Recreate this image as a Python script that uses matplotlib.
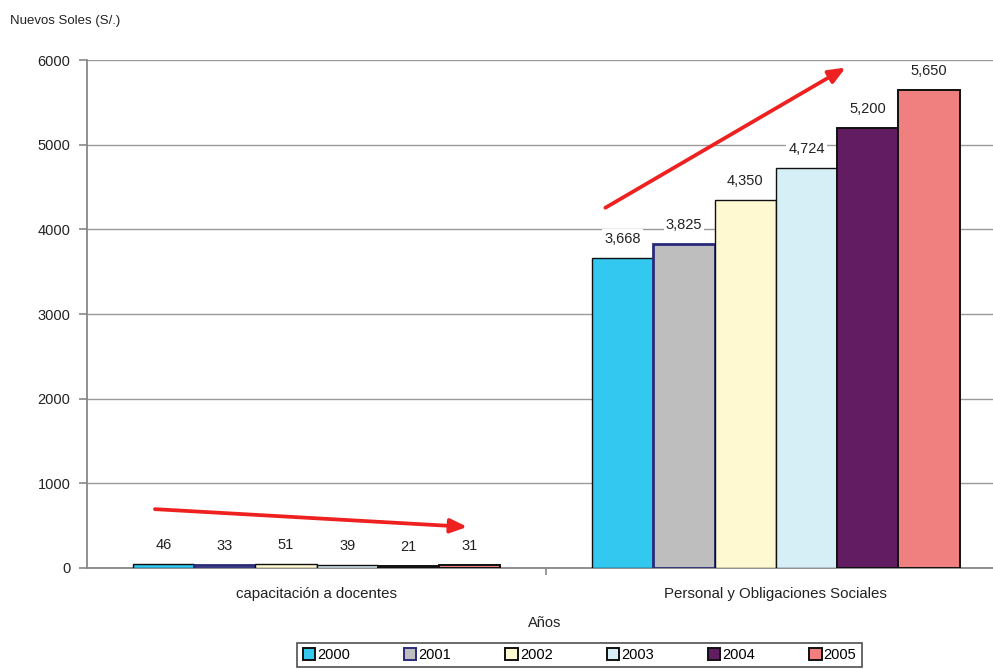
import matplotlib
matplotlib.use("Agg")
import matplotlib.pyplot as plt
import numpy as np

plt.rcParams["font.family"] = ["Liberation Sans", "DejaVu Sans"]

categories = ["capacitación a docentes", "Personal y Obligaciones Sociales"]
years = ["2000", "2001", "2002", "2003", "2004", "2005"]
values = {
    "2000": [46, 3668],
    "2001": [33, 3825],
    "2002": [51, 4350],
    "2003": [39, 4724],
    "2004": [21, 5200],
    "2005": [31, 5650],
}
labels = {
    "2000": ["46", "3,668"],
    "2001": ["33", "3,825"],
    "2002": ["51", "4,350"],
    "2003": ["39", "4,724"],
    "2004": ["21", "5,200"],
    "2005": ["31", "5,650"],
}
y_ticks = [0, 1000, 2000, 3000, 4000, 5000, 6000]

fills = ["#33C8F0", "#BEBEBE", "#FFF9D2", "#D6EEF6", "#621C62", "#F07F80"]
edges = ["#101010", "#2A2A7A", "#101010", "#101010", "#101010", "#101010"]
edge_w = [1.0, 2.0, 1.0, 1.0, 1.4, 1.4]

fig = plt.figure(figsize=(9.93, 6.69), dpi=100)
ax = fig.add_axes([0.0876, 0.151, 0.925, 0.759])

x = np.arange(len(categories))
group_w = 0.8
bw = group_w / len(years)

ax.set_axisbelow(True)
ax.yaxis.grid(True, color="#9A9A9A", linewidth=1.0)

for i, yr in enumerate(years):
    pos = x - group_w / 2 + bw * (i + 0.5)
    bars = ax.bar(pos, values[yr], width=bw, color=fills[i], edgecolor=edges[i],
                  linewidth=edge_w[i], label=yr, zorder=3)
    for b, txt in zip(bars, labels[yr]):
        ax.annotate(txt, (b.get_x() + b.get_width() / 2, b.get_height()),
                    xytext=(0, 19), textcoords="offset pixels",
                    ha="center", va="center", fontsize=10.5, color="#222222",
                    bbox=dict(boxstyle="square,pad=0.15", fc="white", ec="none"),
                    zorder=4)

ax.set_xlim(-0.5, 1.5)
ax.set_ylim(0, 6000)
ax.set_yticks(y_ticks)
ax.set_yticklabels([str(t) for t in y_ticks], fontsize=10.5, color="#222222")
ax.tick_params(axis="y", direction="out", length=6, color="#888888", width=1.2, pad=6)

ax.set_xticks(x)
ax.set_xticklabels(categories, fontsize=10.8, color="#222222")
ax.tick_params(axis="x", length=0, pad=14)
ax.set_xticks([0.5], minor=True)
ax.tick_params(axis="x", which="minor", direction="out", length=5, color="#888888", width=1.2)

for s in ["top", "right"]:
    ax.spines[s].set_visible(False)
ax.spines["left"].set_color("#888888")
ax.spines["left"].set_linewidth(1.3)
ax.spines["bottom"].set_color("#888888")
ax.spines["bottom"].set_linewidth(1.3)

# Trend arrows
arrow_kw = dict(arrowstyle="-|>,head_length=1.0,head_width=0.42", color="#EE2020", lw=2.7)
ax.annotate("", xy=(0.334, 484), xytext=(-0.358, 697), arrowprops=arrow_kw,
            annotation_clip=False, zorder=5)
ax.annotate("", xy=(1.157, 5929), xytext=(0.6235, 4240), arrowprops=arrow_kw,
            annotation_clip=False, zorder=5)

fig.text(0.548, 0.069, "Años", ha="center", va="center", fontsize=10.5, color="#222222")
fig.text(0.01, 0.968, "Nuevos Soles (S/.)", ha="left", va="center", fontsize=9.5, color="#222222")

leg = fig.legend(loc="upper center", bbox_to_anchor=(0.5836, 0.05), ncol=6,
                 fontsize=10.5, frameon=True, fancybox=False, edgecolor="#222222",
                 handlelength=0.85, handleheight=0.85, handletextpad=0.15,
                 columnspacing=3.7, borderpad=0.35)
leg.get_frame().set_linewidth(1.2)
for h in leg.legend_handles:
    h.set_linewidth(1.4)

fig.savefig("out.png", dpi=100)
